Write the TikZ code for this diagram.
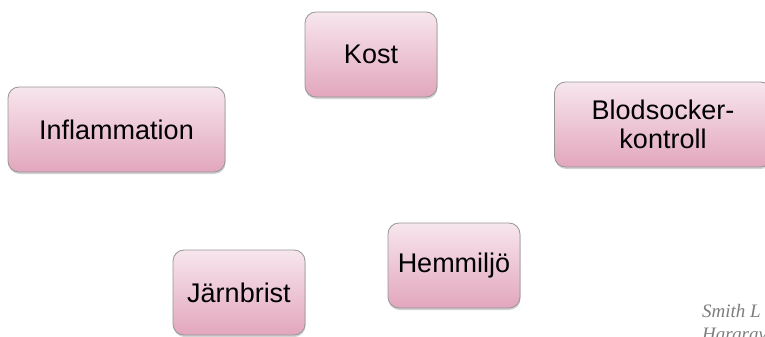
\documentclass[tikz,border=0pt]{standalone}
\usepackage{fontspec}
\setmainfont{Liberation Sans}
\newfontfamily\citefont{Liberation Serif}
\usetikzlibrary{shadows}

\definecolor{boxtop}{RGB}{247,230,237}
\definecolor{boxbottom}{RGB}{226,166,189}
\definecolor{boxline}{RGB}{150,150,150}
\definecolor{citegray}{RGB}{125,125,125}

\tikzset{
	factor/.style={draw=boxline, line width=0.8pt, rounded corners=11pt,
		top color=boxtop, bottom color=boxbottom,
		minimum width=132pt, minimum height=85pt, inner sep=2pt,
		align=center, font=\fontsize{27}{29}\selectfont,
		drop shadow={opacity=0.35, shadow xshift=0.5pt, shadow yshift=-2pt}},
	wide/.style={minimum width=217pt}
}

\begin{document}
\begin{tikzpicture}[x=1pt, y=-1pt]
		\clip (0,0) rectangle (765,337);
		\node (kost) [factor] at (371,54.5) {Kost};
		\node (infl) [factor, wide] at (116.5,129.5) {Inflammation};
		\node (blod) [factor, wide] at (663,124.5) {Blodsocker-\\kontroll};
		\node (jarn) [factor] at (239,292.5) {Järnbrist};
		\node (hemm) [factor] at (454,265.5) {Hemmiljö};
		\node (cite) [anchor=north west, align=left, text=citegray, inner sep=0pt,
			font=\citefont\itshape\fontsize{19}{23}\selectfont] at (702,304)
		{Smith L\\Hargrav};
\end{tikzpicture}
\end{document}
